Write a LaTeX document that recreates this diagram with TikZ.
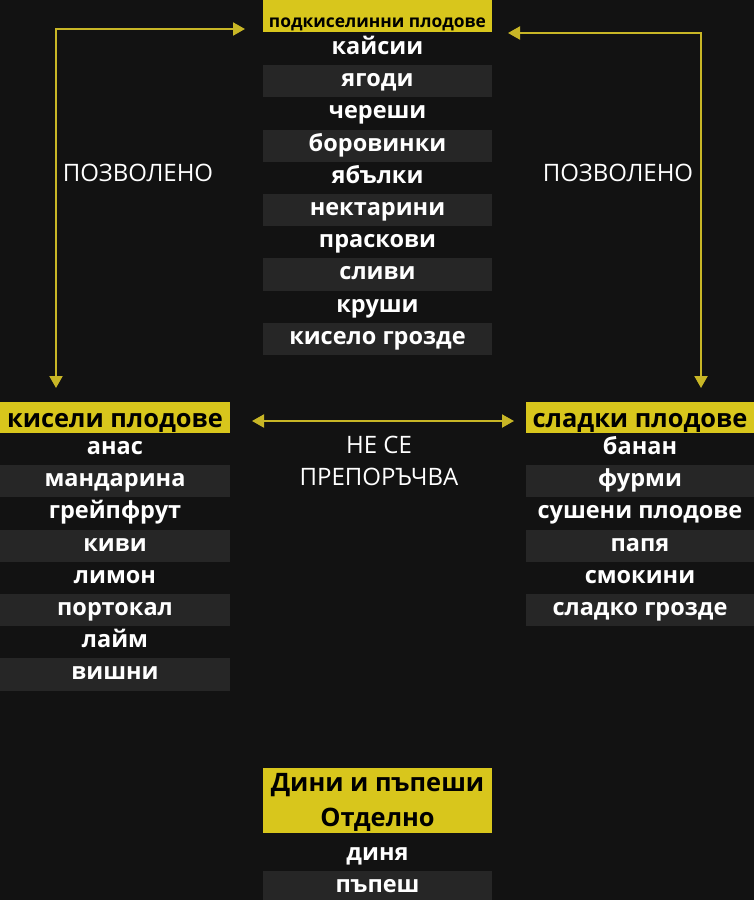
\documentclass[tikz,border=0pt]{standalone}
\usepackage{fontspec}
\setmainfont{Open Sans}
\usetikzlibrary{arrows.meta}
\definecolor{bg}{HTML}{121212}
\definecolor{ylw}{HTML}{D8C61C}
\definecolor{arr}{HTML}{C8B626}
\definecolor{stripe}{HTML}{262626}
\begin{document}
\begin{tikzpicture}[x=1pt,y=-1pt,
  row/.style={minimum height=32.2pt, inner sep=0pt, text=white, text height=16pt, text depth=5.4pt, font=\bfseries\fontsize{23.5}{26}\selectfont},
  hdr/.style={fill=ylw, text=black, inner sep=0pt, text height=22pt, text depth=2.4pt, font=\bfseries\fontsize{25.4}{28}\selectfont},
  hdrtxt/.style={text=black, inner sep=0pt, text height=16pt, text depth=2.4pt, font=\bfseries\fontsize{25.4}{28}\selectfont},
  lbl/.style={text=white, inner sep=0pt, text height=17.1pt, text depth=0pt, font=\fontsize{24}{28}\selectfont},
  link/.style={draw=arr, line width=2pt, {Triangle[length=12pt,width=13pt]}-{Triangle[length=12pt,width=13pt]}}]
\fill[bg] (0,0) rectangle (754,900);
\useasboundingbox (0,0) rectangle (754,900);
% top column
\node[hdr, minimum width=229pt, minimum height=32pt, text height=24pt, text depth=0.7pt, font=\bfseries\fontsize{17.4}{20}\selectfont] (htop) at (377.5,16) {подкиселинни плодове};
\foreach \t/\f [count=\i] in {кайсии/bg,ягоди/stripe,череши/bg,боровинки/stripe,ябълки/bg,нектарини/stripe,праскови/bg,сливи/stripe,круши/bg,кисело грозде/stripe}
  \node[row, minimum width=229pt, fill=\f] (top\i) at (377.5,{49.1+32.2*(\i-1)}) {\t};
% left column
\node[hdr, minimum width=230pt, minimum height=32pt] (hleft) at (115,417.5) {кисели плодове};
\foreach \t/\f [count=\i] in {анас/bg,мандарина/stripe,грейпфрут/bg,киви/stripe,лимон/bg,портокал/stripe,лайм/bg,вишни/stripe}
  \node[row, minimum width=230pt, fill=\f] (left\i) at (115,{449.1+32.2*(\i-1)}) {\t};
% right column
\node[hdr, minimum width=228pt, minimum height=32pt] (hright) at (640,417.5) {сладки плодове};
\foreach \t/\f [count=\i] in {банан/bg,фурми/stripe,сушени плодове/bg,папя/stripe,смокини/bg,сладко грозде/stripe}
  \node[row, minimum width=228pt, fill=\f] (right\i) at (640,{449.1+32.2*(\i-1)}) {\t};
% bottom
\node[fill=ylw, inner sep=0pt, minimum width=229pt, minimum height=65pt] (hbot) at (377.5,800.5) {};
\node[hdrtxt] (hbot1) at (377.5,785) {Дини и пъпеши};
\node[hdrtxt] (hbot2) at (377.5,820) {Отделно};
\node[row, minimum width=229pt, fill=bg] (bot1) at (377.5,855) {диня};
\node[row, minimum width=229pt, fill=stripe] (bot2) at (377.5,887) {пъпеш};
% arrows
\coordinate (lc) at (56,29);
\coordinate (ld) at (56,388);
\coordinate (lt) at (245,29);
\coordinate (rc) at (701,33);
\coordinate (rd) at (701,388);
\coordinate (rt) at (508,33);
\coordinate (m1) at (252,421);
\coordinate (m2) at (514,421);
\draw[link] (ld) -- (lc) -- (lt);
\draw[link] (rd) -- (rc) -- (rt);
\draw[link] (m1) -- (m2);
\node[lbl] (pl) at (138,173) {ПОЗВОЛЕНО};
\node[lbl] (pr) at (618,173) {ПОЗВОЛЕНО};
\node[lbl] (ns1) at (379,445) {НЕ СЕ};
\node[lbl] (ns2) at (379,477) {ПРЕПОРЪЧВА};
\end{tikzpicture}
\end{document}
